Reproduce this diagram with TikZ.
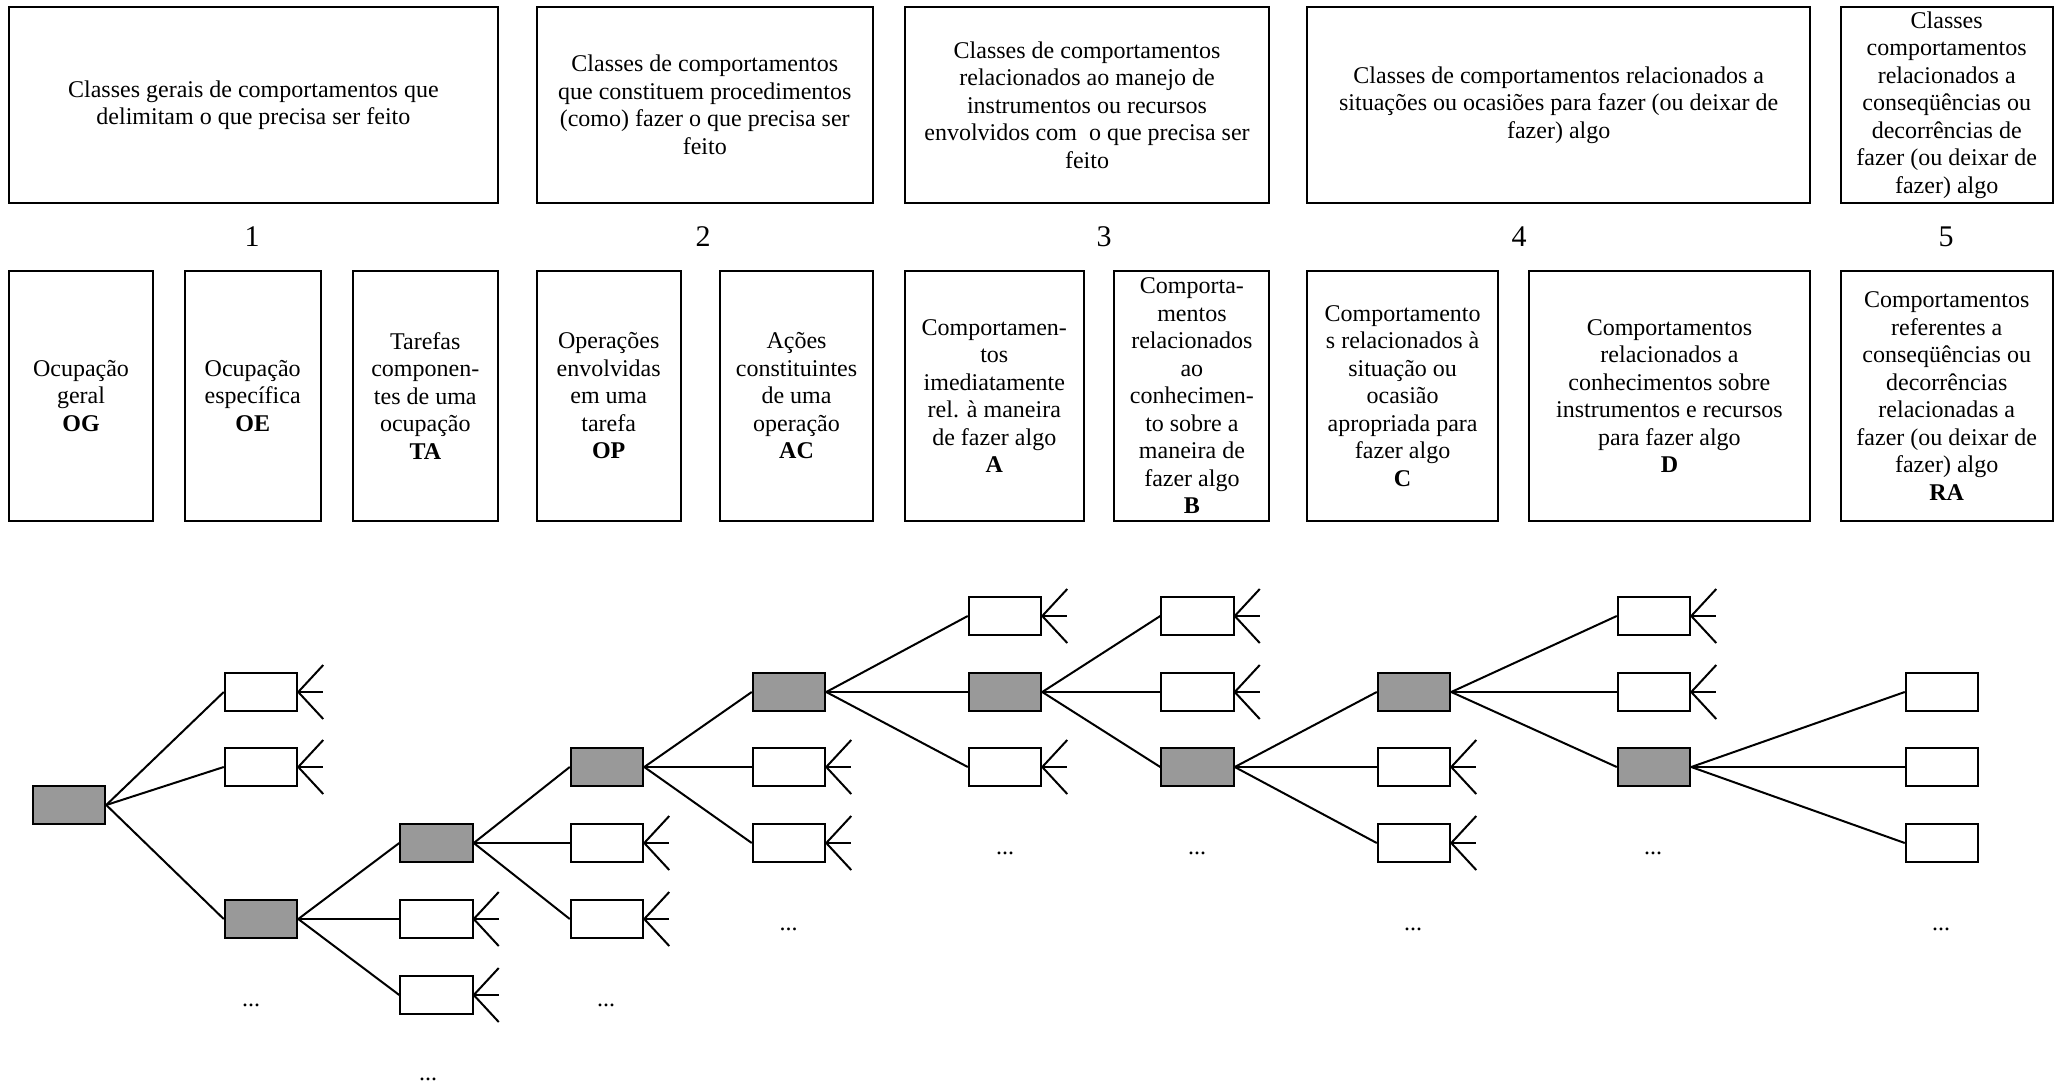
\documentclass[tikz,border=0pt]{standalone}
\usepackage{fontspec}
\setmainfont{Liberation Serif}
\definecolor{hubgray}{RGB}{153,153,153}
\begin{document}
\begin{tikzpicture}[x=0.5pt,y=-0.5pt,
  every node/.style={font=\fontsize{12pt}{13.75pt}\selectfont},
  classbox/.style={draw, line width=1pt, align=center, inner sep=0pt},
  headbox/.style={classbox, minimum height=97.5pt},
  catbox/.style={classbox, minimum height=124.85pt},
  colnum/.style={font=\fontsize{15pt}{18pt}\selectfont, inner sep=0pt},
  leaf/.style={draw, line width=1pt, minimum width=36.25pt, minimum height=19pt, inner sep=0pt, fill=white},
  hub/.style={leaf, fill=hubgray},
  link/.style={line width=1pt},
  more/.style={anchor=base, inner sep=0pt}]
\useasboundingbox (0,0) rectangle (2060,1086);

% ---- header row: classes of behaviour ----
\node[headbox, minimum width=244.5pt] (t1) at (253.4,105)
  {Classes gerais de comportamentos que\\delimitam o que precisa ser feito};
\node[headbox, minimum width=168.15pt] (t2) at (704.75,105)
  {Classes de comportamentos\\que constituem procedimentos\\(como) fazer o que precisa ser\\feito};
\node[headbox, minimum width=182.35pt] (t3) at (1087,105)
  {Classes de comportamentos\\relacionados ao manejo de\\instrumentos ou recursos\\envolvidos com\ \ o que precisa ser\\feito};
\node[headbox, minimum width=251.35pt] (t4) at (1558.7,105)
  {Classes de comportamentos relacionados a\\situações ou ocasiões para fazer (ou deixar de\\fazer) algo};
\node[headbox, minimum width=106.15pt] (t5) at (1946.7,105)
  {Classes\\comportamentos\\relacionados a\\conseqüências ou\\decorrências de\\fazer (ou deixar de\\fazer) algo};

% ---- column numbers ----
\node[colnum] (n1) at (252,237) {1};
\node[colnum] (n2) at (703,237) {2};
\node[colnum] (n3) at (1104,237) {3};
\node[colnum] (n4) at (1519,237) {4};
\node[colnum] (n5) at (1946,237) {5};

% ---- category row ----
\node[catbox, minimum width=72pt] (og) at (81,395.9)
  {Ocupação\\geral\\\textbf{OG}};
\node[catbox, minimum width=67.85pt] (oe) at (252.7,395.9)
  {Ocupação\\específica\\\textbf{OE}};
\node[catbox, minimum width=72.5pt] (ta) at (425.3,395.9)
  {Tarefas\\componen-\\tes de uma\\ocupação\\\textbf{TA}};
\node[catbox, minimum width=72pt] (op) at (608.7,395.9)
  {Operações\\envolvidas\\em uma\\tarefa\\\textbf{OP}};
\node[catbox, minimum width=76.5pt] (ac) at (796.5,395.9)
  {Ações\\constituintes\\de uma\\operação\\\textbf{AC}};
\node[catbox, minimum width=89.7pt] (ca) at (994.3,395.9)
  {Comportamen-\\tos\\imediatamente\\rel. à maneira\\de fazer algo\\\textbf{A}};
\node[catbox, minimum width=77.5pt] (cb) at (1191.9,395.9)
  {Comporta-\\mentos\\relacionados\\ao\\conhecimen-\\to sobre a\\maneira de\\fazer algo\\\textbf{B}};
\node[catbox, minimum width=95.25pt] (cc) at (1402.6,395.9)
  {Comportamento\\s relacionados à\\situação ou\\ocasião\\apropriada para\\fazer algo\\\textbf{C}};
\node[catbox, minimum width=140.5pt] (cd) at (1669.4,395.9)
  {Comportamentos\\relacionados a\\conhecimentos sobre\\instrumentos e recursos\\para fazer algo\\\textbf{D}};
\node[catbox, minimum width=106.15pt] (ra) at (1946.7,395.9)
  {Comportamentos\\referentes a\\conseqüências ou\\decorrências\\relacionadas a\\fazer (ou deixar de\\fazer) algo\\\textbf{RA}};

% ---- decomposition tree ----
\node[hub]  (root) at (69,805) {};

\node[leaf] (a1) at (261,692) {};
\node[leaf] (a2) at (261,767) {};
\node[hub]  (a3) at (261,919) {};

\node[hub]  (b1) at (436.5,843) {};
\node[leaf] (b2) at (436.5,919) {};
\node[leaf] (b3) at (436.5,995) {};

\node[hub]  (c1) at (607,767) {};
\node[leaf] (c2) at (607,843) {};
\node[leaf] (c3) at (607,919) {};

\node[hub]  (d1) at (789,692) {};
\node[leaf] (d2) at (789,767) {};
\node[leaf] (d3) at (789,843) {};

\node[leaf] (e1) at (1005,616) {};
\node[hub]  (e2) at (1005,692) {};
\node[leaf] (e3) at (1005,767) {};

\node[leaf] (f1) at (1197.5,616) {};
\node[leaf] (f2) at (1197.5,692) {};
\node[hub]  (f3) at (1197.5,767) {};

\node[hub]  (g1) at (1414,692) {};
\node[leaf] (g2) at (1414,767) {};
\node[leaf] (g3) at (1414,843) {};

\node[leaf] (h1) at (1654,616) {};
\node[leaf] (h2) at (1654,692) {};
\node[hub]  (h3) at (1654,767) {};

\node[leaf] (i1) at (1942,692) {};
\node[leaf] (i2) at (1942,767) {};
\node[leaf] (i3) at (1942,843) {};

% branches from each expanded node to its three children
\foreach \p/\k in {root/a, a3/b, b1/c, c1/d, d1/e, e2/f, f3/g, g1/h, h3/i}
  \foreach \j in {1,2,3}
    \draw[link] (\p.east) -- (\k\j.west);

% open fans on leaves that are not expanded further
\foreach \n in {a1,a2,b2,b3,c2,c3,d2,d3,e1,e3,f1,f2,g2,g3,h1,h2} {
  \draw[link] (\n.east) -- ++(25,-27);
  \draw[link] (\n.east) -- ++(25,0);
  \draw[link] (\n.east) -- ++(25,27);
}

% continuation marks
\node[more] (m1) at (251,1006) {...};
\node[more] (m2) at (428,1080) {...};
\node[more] (m3) at (606,1006) {...};
\node[more] (m4) at (788.5,930) {...};
\node[more] (m5) at (1005,854) {...};
\node[more] (m6) at (1197,854) {...};
\node[more] (m7) at (1413,930) {...};
\node[more] (m8) at (1653,854) {...};
\node[more] (m9) at (1941,930) {...};
\end{tikzpicture}
\end{document}
